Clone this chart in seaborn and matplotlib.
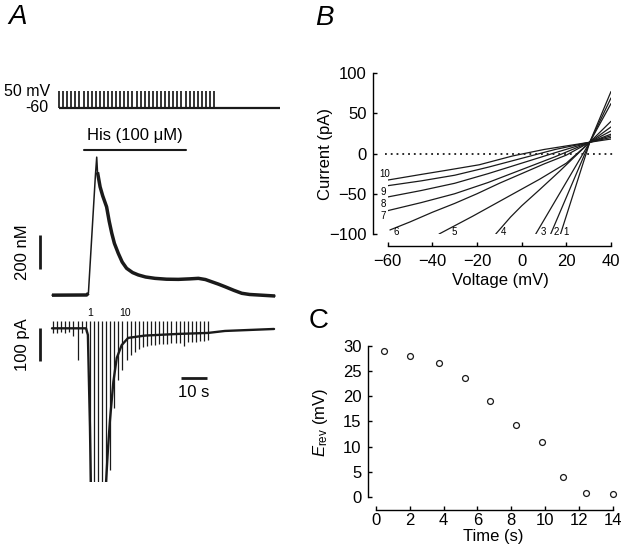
import numpy as np
import pandas as pd
import matplotlib
matplotlib.use("Agg")
import matplotlib.pyplot as plt
import seaborn as sns

# ====================== DATA ======================
# ---- Panel A ----
# times of the voltage ramps/steps (s) in the current record
stim_times = [0.40, 1.97, 3.54, 5.11, 6.68, 8.25, 9.82, 11.39, 12.96, 14.53,
              16.10, 17.67, 19.24, 20.81, 22.38, 23.95, 25.52, 27.09, 28.66, 30.23,
              31.80, 33.37, 34.94, 36.51, 38.08, 39.65, 41.22, 42.79, 44.36, 45.93,
              47.50, 49.07, 50.64, 52.21, 53.78, 55.35, 56.92, 58.49, 60.06]
protocol_delay = 2.3          # s (protocol trace drawn offset)
protocol_end = 87.7           # s
hold_mV = -60
step_mV = 50
his_on, his_off = 12.3, 51.5  # histamine application (s)

# [Ca2+]i trace
ca_t = [0.0, 13.3, 14.0, 16.7, 17.2, 17.5, 18.5, 19.5, 21.0, 22.0,
        23.0, 24.0, 25.5, 27.0, 28.7, 31.0, 33.2, 36.0, 39.6, 44.0,
        48.6, 53.0, 56.3, 59.0, 61.4, 64.0, 66.5, 70.0, 73.0, 76.0,
        79.3, 85.8]
ca_nM = [105, 106, 116, 812, 918, 829, 743, 690, 625, 540,
         469, 410, 351, 300, 263, 238, 224, 212, 204, 199,
         198, 201, 204, 197, 184, 170, 155, 133, 116, 109,
         106, 100]

# holding current trace (values below -465 pA are off scale)
hold_t = [0.0, 13.1, 13.8, 14.6, 15.2, 20.0, 20.8, 21.5, 22.3, 23.6,
          24.9, 26.8, 29.3, 35.8, 48.5, 60.0, 66.5, 85.4]
hold_pA = [0, 0, -20, -300, -600, -600, -465, -369, -278, -162,
           -90, -51, -29, -22, -17, -14, -8, -2]
# inward peak current during each ramp (pA)
ramp_min_pA = [-14, -14, -11, -14, -11, -23, -96, -14, -11, -600,
               -600, -600, -600, -600, -429, -242, -157, -126, -96, -81,
               -72, -63, -57, -54, -51, -51, -48, -48, -48, -45,
               -45, -45, -54, -42, -42, -42, -38, -38, -35]
ramp_max_pA = 22

# ---- Panel B: I-V relations ----
iv_names = ["1", "2", "3", "4", "5", "6", "7", "8", "9", "10"]
iv_v = [[17.4, 30.5, 40],
        [13.0, 30.5, 40],
        [6.3, 30.5, 40],
        [-11.6, -5, 0, 8, 17, 30.5, 40],
        [-37, -22, -7, 8, 20, 30.5, 40],
        [-59, -50, -40, -30, -20, -10, 0, 10, 20, 30.5, 40],
        [-60, -45, -30, -15, 0, 15, 30.5, 40],
        [-60, -45, -30, -15, 0, 15, 30.5, 40],
        [-60, -45, -30, -15, 0, 15, 30.5, 40],
        [-60, -45, -34, -19, -4, 10, 30.5, 40]]
iv_i = [[-100, 14, 77],
        [-100, 14, 69],
        [-100, 14, 62],
        [-100, -79, -65, -45, -22, 14, 40],
        [-100, -78, -55, -32, -12, 14, 33],
        [-95, -85, -73, -62, -50, -37, -25, -13, -2, 14, 28],
        [-71, -61, -50, -36, -20, -4, 14, 24],
        [-54, -46, -37, -25, -12, 1, 14, 22],
        [-40, -34, -27, -17, -6, 5, 14, 20],
        [-33, -26, -21, -14, -3, 5, 14, 18]]
iv_label_v = [19.8, 15.3, 9.6, -8.2, -30.3, -56.0, -62.0, -62.0, -62.0, -61.5]
iv_label_i = [-98, -98, -98, -98, -98, -98, -78, -62.5, -47.6, -26]

# ---- Panel C ----
time_s = [0.5, 2.0, 3.75, 5.27, 6.76, 8.28, 9.8, 11.08, 12.43, 14.0]
erev_mV = [29.0, 28.0, 26.5, 23.5, 19.0, 14.3, 11.0, 3.9, 0.85, 0.5]

# ====================== STYLE ======================
sns.set_theme(style="ticks")
plt.rcParams["font.family"] = ["Liberation Sans", "DejaVu Sans"]
plt.rcParams["mathtext.fontset"] = "custom"
plt.rcParams["mathtext.rm"] = "Liberation Sans"
plt.rcParams["mathtext.it"] = "Liberation Sans:italic"
for key in ["text.color", "axes.labelcolor", "xtick.color", "ytick.color",
            "axes.edgecolor"]:
    plt.rcParams[key] = "black"
plt.rcParams["axes.linewidth"] = 1.0
FS = 12

W, H = 626, 559
fig = plt.figure(figsize=(W / 100, H / 100), dpi=100)
fig.patch.set_facecolor("white")


def add_ax(x0, y0, x1, y1):
    return fig.add_axes([x0 / W, 1 - y1 / H, (x1 - x0) / W, (y1 - y0) / H])


# ====================== PANEL A ======================
ax_l, ax_r = 20.8, 291.2
xlimA = (-12, 92)

# protocol
axP = add_ax(ax_l, 80, ax_r, 115)
axP.set_xlim(*xlimA)
axP.set_ylim(-105.3, 121.2)
axP.axis("off")
prot_times = [t + protocol_delay for t in stim_times]
axP.vlines(prot_times, hold_mV, step_mV, color="k", lw=1.25)
axP.plot([prot_times[0], protocol_end], [hold_mV, hold_mV], color="k", lw=1.6,
         solid_capstyle="butt")
axP.text(-0.8, step_mV, "50 mV", ha="right", va="center", fontsize=11.5)
axP.text(-1.5, hold_mV, "-60", ha="right", va="center", fontsize=11.5)

# calcium
axC = add_ax(ax_l, 150, ax_r, 300.25)
axC.set_xlim(*xlimA)
axC.set_ylim(75, 960)
axC.axis("off")
sns.lineplot(x=ca_t, y=ca_nM, ax=axC, color="k", lw=1.1, estimator=None, sort=False)
axC.plot(ca_t[:3], ca_nM[:3], color="k", lw=2.5, solid_capstyle="butt")
axC.plot(ca_t[5:], ca_nM[5:], color="k", lw=2.5, solid_capstyle="butt",
         solid_joinstyle="round")
axC.plot([his_on, his_off], [959, 959], color="k", lw=1.5, clip_on=False)
axC.text((his_on + his_off) / 2, 1047, "His (100 \u03bcM)", ha="center", va="center",
         fontsize=FS)
axC.vlines(-4.6, 259, 459, color="k", lw=2.0)
axC.text(-11.2, 359, "200 nM", rotation=90, ha="center", va="center", fontsize=FS)

# current
axI = add_ax(ax_l, 300, ax_r, 481.75)
axI.set_xlim(*xlimA)
axI.set_ylim(-465, 85.8)
axI.axis("off")
axI.vlines(stim_times, ramp_min_pA, ramp_max_pA, color="k", lw=0.9)
sns.lineplot(x=hold_t, y=hold_pA, ax=axI, color="k", lw=1.7, estimator=None, sort=False)
axI.text(stim_times[9], 45, "1", ha="center", va="center", fontsize=7.5)
axI.text(stim_times[18] - 0.6, 45, "10", ha="center", va="center", fontsize=7.5)
axI.vlines(-4.6, -100, 0, color="k", lw=2.0)
axI.text(-11.2, -50, "100 pA", rotation=90, ha="center", va="center", fontsize=FS)
axI.hlines(-150, 49.6, 59.6, color="k", lw=2.0)
axI.text(54.6, -196, "10 s", ha="center", va="center", fontsize=FS)

fig.text(18 / W, 1 - 24 / H, "A", fontsize=20, style="italic", ha="center", va="baseline")

# ====================== PANEL B ======================
axB = add_ax(387.7, 73, 611, 234)
rows = []
for name, vv, ii in zip(iv_names, iv_v, iv_i):
    for v, i in zip(vv, ii):
        rows.append({"curve": name, "V": v, "I": i})
iv_df = pd.DataFrame(rows)
axB.plot([-61, 41], [0, 0], color="k", lw=1.3, linestyle=(0, (1, 2.2)), clip_on=False)
sns.lineplot(data=iv_df, x="V", y="I", units="curve", estimator=None, sort=False,
             color="k", lw=0.9, ax=axB, legend=False)
for name, lv, li in zip(iv_names, iv_label_v, iv_label_i):
    axB.text(lv, li, name, fontsize=7, ha="center", va="center")
axB.set_xlim(-60, 40)
axB.set_ylim(-100, 100)
axB.set_xticks([-60, -40, -20, 0, 20, 40])
axB.set_yticks([-100, -50, 0, 50, 100])
sns.despine(ax=axB)
axB.spines["left"].set_position(("outward", 10.8))
axB.spines["bottom"].set_position(("outward", 8.6))
axB.tick_params(axis="y", direction="in", length=2.6, width=1.0, pad=4.3, labelsize=FS)
axB.tick_params(axis="x", direction="in", length=3.0, width=1.0, pad=5.5, labelsize=FS)
axB.set_xlabel("Voltage (mV)", fontsize=FS)
axB.set_ylabel("Current (pA)", fontsize=FS)
axB.xaxis.set_label_coords(0.503, -0.242)
axB.yaxis.set_label_coords(-0.245, 0.497)

fig.text(324 / W, 1 - 25 / H, "B", fontsize=20, style="italic", ha="center", va="baseline")

# ====================== PANEL C ======================
axE = add_ax(376, 345.7, 612.7, 497)
sns.scatterplot(x=time_s, y=erev_mV, ax=axE, marker="o", s=18, facecolor="white",
                edgecolor="k", linewidth=0.9, zorder=3, clip_on=False)
axE.set_xlim(0, 14)
axE.set_ylim(0, 30)
axE.set_xticks(range(0, 15, 2))
axE.set_yticks(range(0, 31, 5))
sns.despine(ax=axE)
axE.spines["left"].set_position(("outward", 6.0))
axE.spines["bottom"].set_position(("outward", 9.4))
axE.tick_params(axis="y", direction="in", length=2.6, width=1.0, pad=4.3, labelsize=FS)
axE.tick_params(axis="x", direction="in", length=3.0, width=1.0, pad=1.8, labelsize=FS)
axE.set_xlabel("Time (s)", fontsize=FS)
axE.set_ylabel(r"$E_{\rm rev}$ (mV)", fontsize=FS)
axE.xaxis.set_label_coords(0.496, -0.2115)
axE.yaxis.set_label_coords(-0.194, 0.492)

fig.text(318.5 / W, 1 - 328 / H, "C", fontsize=20, ha="center", va="baseline")

fig.savefig("out.png", dpi=100, facecolor="white")
